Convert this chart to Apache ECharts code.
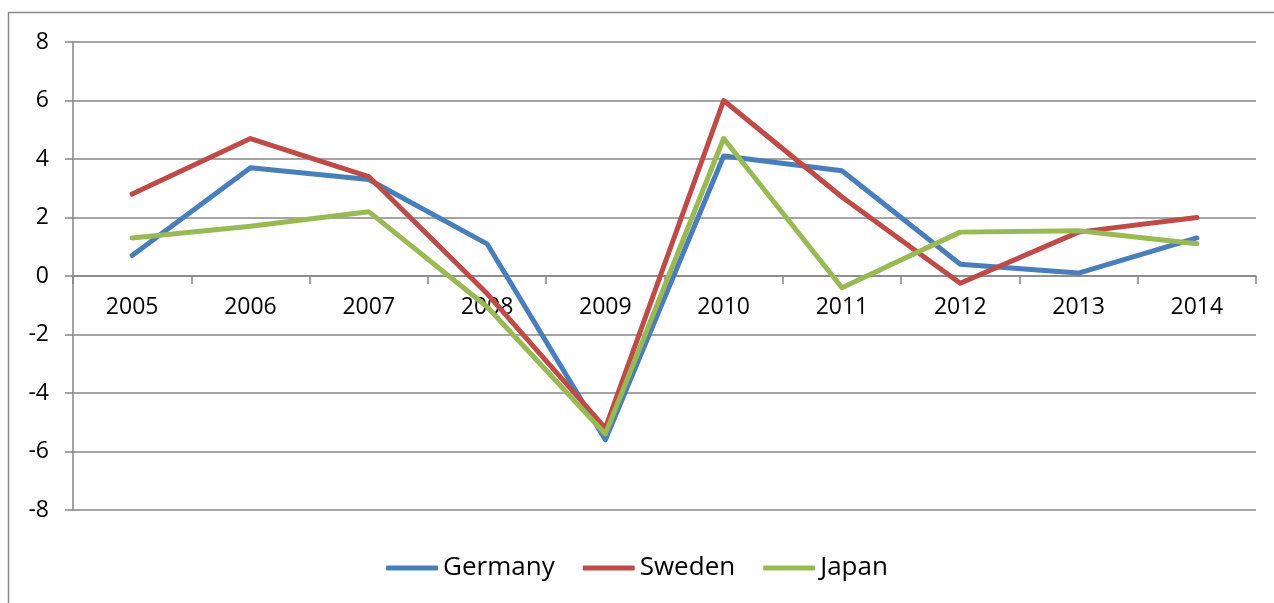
<!DOCTYPE html>
<html>
<head>
<meta charset="utf-8">
<script src="https://cdn.jsdelivr.net/npm/echarts@6/dist/echarts.min.js"></script>
<style>html,body{margin:0;padding:0;background:#fff;}#c{width:1274px;height:603px;}</style>
</head>
<body>
<div id="c"></div>
<script>
const years = ['2005','2006','2007','2008','2009','2010','2011','2012','2013','2014'];
const germany = [0.7, 3.7, 3.3, 1.1, -5.6, 4.1, 3.6, 0.4, 0.1, 1.3];
const sweden  = [2.8, 4.7, 3.4, -0.6, -5.2, 6.0, 2.7, -0.25, 1.5, 2.0];
const japan   = [1.3, 1.7, 2.2, -1.05, -5.4, 4.7, -0.4, 1.5, 1.55, 1.1];
const yTicks = [-8, -6, -4, -2, 0, 2, 4, 6, 8];

const chart = echarts.init(document.getElementById('c'), null, {renderer: 'canvas'});
const font = 'Open Sans';
const mk = (name, data, color) => ({
  name, type: 'line', data, symbol: 'none', smooth: false,
  lineStyle: {color, width: 5, cap: 'round', join: 'round'},
  itemStyle: {color}
});
chart.setOption({
  animation: false,
  backgroundColor: '#fff',
  graphic: [{
    type: 'rect', silent: true, z: -1,
    shape: {x: 8.5, y: 12.5, width: 1400, height: 700},
    style: {fill: 'none', stroke: '#8a8a8a', lineWidth: 1.5}
  }],
  grid: {left: 73, right: 18, top: 42, bottom: 93, containLabel: false},
  legend: {
    bottom: 17, left: 'center',
    itemWidth: 52, itemHeight: 5, itemGap: 28,
    icon: 'roundRect',
    textStyle: {fontFamily: font, fontSize: 26, color: '#000'},
    data: ['Germany','Sweden','Japan']
  },
  xAxis: {
    type: 'category', data: years, boundaryGap: true, position: 'bottom', offset: -234,
    axisLine: {onZero: false, lineStyle: {color: '#868686', width: 1.5}},
    axisTick: {show: true, inside: false, length: 8, lineStyle: {color: '#868686', width: 1.5}},
    axisLabel: {fontFamily: font, fontSize: 23, color: '#000', margin: 20, interval: 0},
    splitLine: {show: false}
  },
  yAxis: {
    type: 'value', min: -8, max: 8, interval: 2,
    axisLine: {show: true, lineStyle: {color: '#868686', width: 1.5}},
    axisTick: {show: true, inside: false, length: 8, lineStyle: {color: '#868686', width: 1.5}},
    axisLabel: {fontFamily: font, fontSize: 23, color: '#000', margin: 24,
      formatter: v => yTicks.includes(v) ? String(v) : ''},
    splitLine: {show: true, lineStyle: {color: '#868686', width: 1.5}}
  },
  series: [
    mk('Germany', germany, '#4A7EBB'),
    mk('Sweden', sweden, '#BE4B48'),
    mk('Japan', japan, '#98B954')
  ]
});
</script>
</body>
</html>
